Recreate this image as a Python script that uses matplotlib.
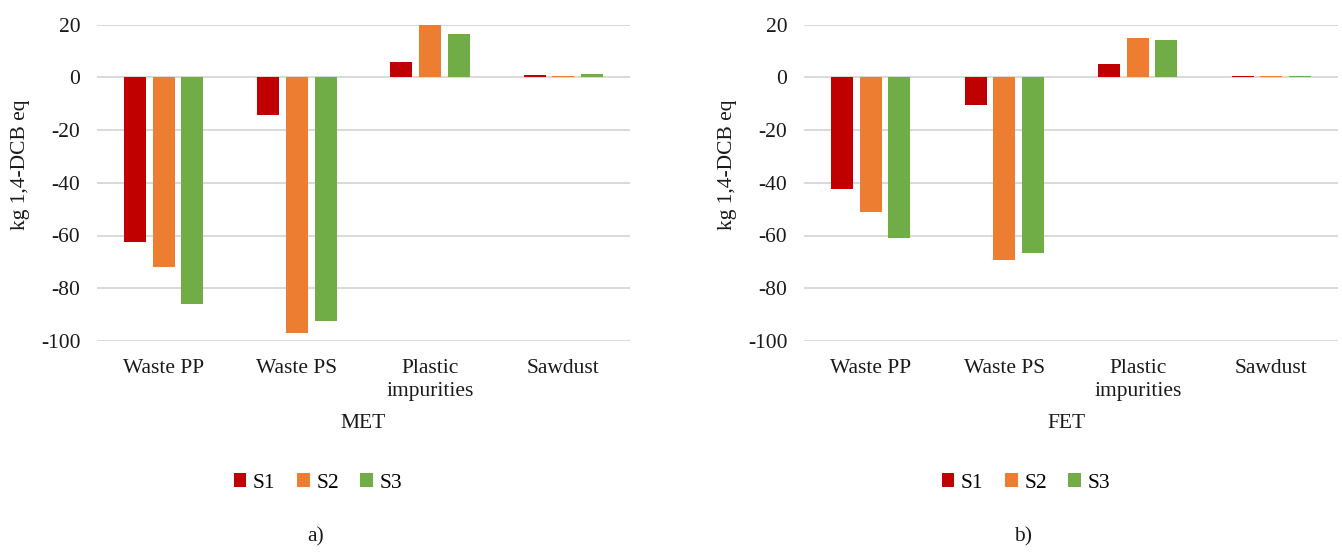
import numpy as np
import matplotlib.pyplot as plt
from matplotlib.patches import Patch

plt.rcParams['font.family'] = ['Liberation Serif', 'DejaVu Serif']

categories = ["Waste PP", "Waste PS", "Plastic\nimpurities", "Sawdust"]
series = ["S1", "S2", "S3"]
colors = ["#c00000", "#ed7d31", "#70ad47"]

# MET values (kg 1,4-DCB eq)
met_s1 = [-62.5, -14.5, 5.8, 0.7]
met_s2 = [-72.1, -97.1, 20.3, 0.6]
met_s3 = [-86.1, -92.4, 16.3, 1.2]

# FET values (kg 1,4-DCB eq)
fet_s1 = [-42.5, -10.6, 4.9, 0.3]
fet_s2 = [-51.0, -69.3, 14.8, 0.3]
fet_s3 = [-61.1, -66.5, 14.0, 0.3]

yticks = [20, 0, -20, -40, -60, -80, -100]

W, H = 1342, 552
FS = 15.5
TXT = "#1a1a1a"
fig = plt.figure(figsize=(W / 100, H / 100), dpi=100)


def draw_panel(left_px, width_px, data, xlabel, tag, legend_x, tag_x, xlabel_x):
    ax = fig.add_axes([left_px / W, (H - 341) / H, width_px / W, (341 - 24.5) / H])
    x = np.arange(len(categories))
    offsets = [-0.215, 0, 0.215]
    for vals, off, col, name in zip(data, offsets, colors, series):
        ax.bar(x + off, vals, width=0.165, color=col, label=name, zorder=3)
    ax.set_ylim(-100, 20)
    ax.set_xlim(-0.5, len(categories) - 0.5)
    ax.set_yticks(yticks)
    ax.set_yticklabels([str(t) for t in yticks], fontsize=FS, color=TXT)
    ax.set_xticks(x)
    ax.set_xticklabels(categories, fontsize=FS, color=TXT, linespacing=1.25)
    ax.tick_params(axis="both", length=0)
    ax.tick_params(axis="y", pad=12)
    ax.tick_params(axis="x", pad=13)
    ax.grid(axis="y", color="#d9d9d9", linewidth=1.4, zorder=0)
    for s in ax.spines.values():
        s.set_visible(False)
    ax.set_ylabel("kg 1,4-DCB eq", fontsize=FS, color=TXT)
    ax.yaxis.label.set_va("center")
    ax.yaxis.set_label_coords(-0.143, 0.556)

    fig.text(xlabel_x / W, 1 - 423 / H, xlabel, fontsize=FS, ha="center", va="center",
             color=TXT)
    handles = [Patch(facecolor=c, label=n) for c, n in zip(colors, series)]
    fig.legend(handles=handles, loc="center", bbox_to_anchor=(legend_x / W, 1 - 483 / H),
               ncol=3, frameon=False, fontsize=FS, handlelength=0.6, handleheight=0.6,
               handletextpad=0.3, columnspacing=1.0)
    fig.text(tag_x / W, 1 - 537 / H, tag, fontsize=FS, ha="center", va="center",
             color=TXT)


draw_panel(97, 533, [met_s1, met_s2, met_s3], "MET", "a)", 318, 316, 363)
draw_panel(804, 534, [fet_s1, fet_s2, fet_s3], "FET", "b)", 1026, 1023, 1066)

plt.savefig("out.png", dpi=100)
